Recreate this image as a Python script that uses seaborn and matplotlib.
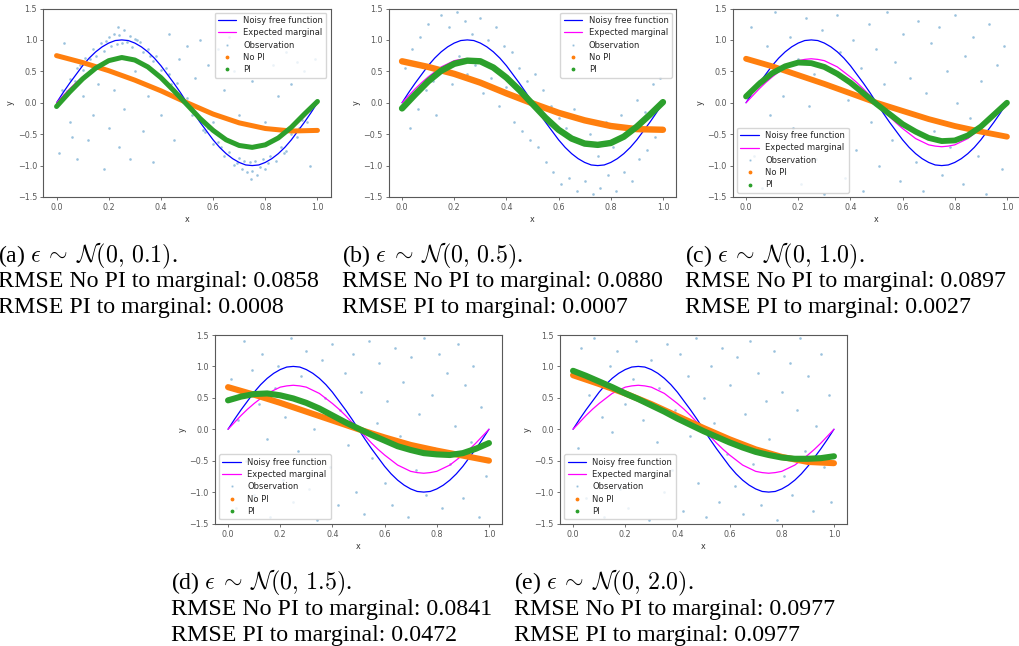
import numpy as np
import pandas as pd
import matplotlib.pyplot as plt
import seaborn as sns
from matplotlib.lines import Line2D

# Estilo geral
sns.set_style('ticks', {'axes.edgecolor': '.35', 'xtick.color': '.35', 'ytick.color': '.35'})
plt.rcParams['mathtext.fontset'] = 'cm'

# Curvas comuns a todos os painéis (x de 0 a 1, passo 0.025)
x_fine = [0.000, 0.025, 0.050, 0.075, 0.100, 0.125, 0.150, 0.175, 0.200, 0.225,
          0.250, 0.275, 0.300, 0.325, 0.350, 0.375, 0.400, 0.425, 0.450, 0.475,
          0.500, 0.525, 0.550, 0.575, 0.600, 0.625, 0.650, 0.675, 0.700, 0.725,
          0.750, 0.775, 0.800, 0.825, 0.850, 0.875, 0.900, 0.925, 0.950, 0.975, 1.000]
free_fn = [0.00, 0.16, 0.31, 0.45, 0.59, 0.71, 0.81, 0.89, 0.95, 0.99,
           1.00, 0.99, 0.95, 0.89, 0.81, 0.71, 0.59, 0.45, 0.31, 0.16,
           0.00, -0.16, -0.31, -0.45, -0.59, -0.71, -0.81, -0.89, -0.95, -0.99,
           -1.00, -0.99, -0.95, -0.89, -0.81, -0.71, -0.59, -0.45, -0.31, -0.16, 0.00]
marginal = [0.00, 0.11, 0.22, 0.32, 0.41, 0.49, 0.57, 0.62, 0.67, 0.69,
            0.70, 0.69, 0.67, 0.62, 0.57, 0.49, 0.41, 0.32, 0.22, 0.11,
            0.00, -0.11, -0.22, -0.32, -0.41, -0.49, -0.57, -0.62, -0.67, -0.69,
            -0.70, -0.69, -0.67, -0.62, -0.57, -0.49, -0.41, -0.32, -0.22, -0.11, 0.00]

# Predições "No PI" (passo 0.1)
x_nopi = [0.0, 0.1, 0.2, 0.3, 0.4, 0.5, 0.6, 0.7, 0.8, 0.9, 1.0]
nopi_a = [0.75, 0.64, 0.51, 0.36, 0.19, 0.00, -0.18, -0.32, -0.41, -0.45, -0.44]
nopi_b = [0.66, 0.57, 0.46, 0.32, 0.15, -0.01, -0.16, -0.28, -0.37, -0.42, -0.43]
nopi_c = [0.70, 0.58, 0.44, 0.30, 0.15, 0.00, -0.13, -0.26, -0.37, -0.46, -0.54]
nopi_d = [0.67, 0.55, 0.42, 0.28, 0.14, 0.00, -0.13, -0.25, -0.34, -0.42, -0.50]
nopi_e = [0.86, 0.72, 0.57, 0.40, 0.21, 0.02, -0.16, -0.32, -0.44, -0.52, -0.54]

# Predições "PI" (passo 0.05)
x_pi = [0.00, 0.05, 0.10, 0.15, 0.20, 0.25, 0.30, 0.35, 0.40, 0.45, 0.50,
        0.55, 0.60, 0.65, 0.70, 0.75, 0.80, 0.85, 0.90, 0.95, 1.00]
pi_a = [-0.06, 0.17, 0.38, 0.55, 0.67, 0.72, 0.68, 0.57, 0.40, 0.19, -0.03,
        -0.25, -0.44, -0.59, -0.68, -0.71, -0.67, -0.56, -0.39, -0.18, 0.02]
pi_b = [-0.09, 0.13, 0.34, 0.51, 0.62, 0.67, 0.66, 0.56, 0.40, 0.20, -0.02,
        -0.24, -0.43, -0.57, -0.65, -0.67, -0.64, -0.54, -0.38, -0.19, 0.01]
pi_c = [0.10, 0.30, 0.47, 0.58, 0.64, 0.63, 0.57, 0.46, 0.32, 0.15, -0.02,
        -0.18, -0.34, -0.46, -0.56, -0.61, -0.60, -0.52, -0.38, -0.19, 0.00]
pi_d = [0.46, 0.52, 0.56, 0.57, 0.54, 0.49, 0.42, 0.33, 0.22, 0.11, 0.01,
        -0.09, -0.18, -0.27, -0.33, -0.38, -0.40, -0.41, -0.38, -0.31, -0.22]
pi_e = [0.93, 0.85, 0.76, 0.67, 0.57, 0.48, 0.38, 0.28, 0.17, 0.07, -0.03,
        -0.12, -0.21, -0.29, -0.36, -0.41, -0.45, -0.47, -0.47, -0.46, -0.43]

# Observações (amostra estimada da nuvem de pontos)
obs_a_x = [0.02, 0.04, 0.05, 0.07, 0.08, 0.10, 0.11, 0.12, 0.14, 0.15, 0.17, 0.18, 0.20, 0.21,
           0.22, 0.23, 0.24, 0.25, 0.26, 0.27, 0.28, 0.29, 0.30, 0.32, 0.33, 0.35, 0.37, 0.38,
           0.40, 0.42, 0.44, 0.46, 0.48, 0.50, 0.52, 0.54, 0.56, 0.58, 0.60, 0.62, 0.64, 0.66,
           0.68, 0.70, 0.71, 0.72, 0.73, 0.74, 0.75, 0.76, 0.77, 0.78, 0.79, 0.80, 0.82, 0.84,
           0.86, 0.88, 0.90, 0.92, 0.94, 0.96, 0.98, 1.00,
           0.03, 0.09, 0.13, 0.19, 0.235, 0.31, 0.36, 0.43, 0.57, 0.63, 0.69, 0.745, 0.81, 0.87,
           0.93, 0.97,
           0.01, 0.03, 0.05, 0.06, 0.08, 0.10, 0.12, 0.14, 0.16, 0.18, 0.20, 0.22, 0.24, 0.26,
           0.28, 0.30, 0.33, 0.35, 0.37, 0.40, 0.43, 0.45, 0.47, 0.50, 0.53, 0.55, 0.58, 0.60,
           0.62, 0.64, 0.66, 0.68, 0.70, 0.72, 0.75, 0.78, 0.80, 0.83, 0.85, 0.88, 0.90, 0.92,
           0.95, 0.97, 0.99]
obs_a_y = [0.20, 0.18, 0.38, 0.35, 0.55, 0.52, 0.72, 0.62, 0.85, 0.74, 0.95, 0.83, 1.05, 0.90,
           1.10, 0.93, 1.08, 0.95, 1.15, 0.97, 1.06, 0.88, 1.02, 0.96, 0.80, 0.86, 0.66, 0.75,
           0.52, 0.56, 0.30, 0.32, 0.05, 0.08, -0.20, -0.18, -0.44, -0.40, -0.66, -0.62, -0.85, -0.78,
           -0.99, -0.88, -1.06, -0.92, -1.10, -0.95, -1.08, -0.93, -1.15, -1.02, -0.90, -1.05, -0.84, -0.93,
           -0.70, -0.76, -0.50, -0.55, -0.28, -0.30, -0.05, 0.04,
           0.12, 0.60, 0.70, 0.98, 1.20, 1.00, 0.74, 0.45, -0.47, -0.70, -0.96, -1.22, -0.96, -0.80,
           -0.40, -0.12,
           -0.80, 0.95, -0.30, -0.55, -0.90, 0.10, -0.60, -0.20, 0.30, -1.05, -0.40, 0.20, -0.70, -0.10,
           -0.90, 0.50, -0.45, 0.10, -0.95, -0.20, 1.10, -0.60, 0.70, 0.90, 0.40, 1.00, 0.60, -0.30,
           0.85, 0.20, 1.05, 0.50, -0.20, 0.75, 0.35, 0.95, -0.30, 0.60, 0.10, 0.80, 0.30, 0.65,
           0.50, -1.00, 0.70]

obs_b_x = [0.01, 0.03, 0.04, 0.06, 0.07, 0.09, 0.10, 0.12, 0.13, 0.15, 0.16, 0.18, 0.19, 0.21,
           0.22, 0.24, 0.25, 0.27, 0.28, 0.30, 0.31, 0.33, 0.34, 0.36, 0.37, 0.39, 0.40, 0.42,
           0.43, 0.45, 0.46, 0.48, 0.49, 0.51, 0.52, 0.54, 0.55, 0.57, 0.58, 0.60, 0.61, 0.63,
           0.64, 0.66, 0.67, 0.69, 0.70, 0.72, 0.73, 0.75, 0.76, 0.78, 0.79, 0.81, 0.82, 0.84,
           0.85, 0.87, 0.88, 0.90, 0.91, 0.93, 0.94, 0.96, 0.97, 0.99]
obs_b_y = [0.55, -0.40, 0.85, -0.10, 1.05, 0.20, 1.25, 0.35, -0.20, 1.40, 0.55, 1.20, 0.30, 1.45,
           0.75, 1.30, 0.45, 1.10, 0.60, 1.35, 0.15, 1.00, 0.40, 1.20, -0.05, 0.90, 0.25, 0.80,
           -0.30, 0.55, -0.45, 0.35, -0.60, 0.45, -0.70, 0.20, -0.95, -0.05, -1.10, -0.25, -1.30, -0.40,
           -1.20, -0.10, -1.40, -0.65, -1.25, -0.50, -1.45, -0.85, -1.35, -0.30, -1.15, -0.70, -1.40, -0.20,
           -1.10, -0.45, -1.25, 0.05, -0.90, -0.15, -0.75, 0.30, -0.55, 0.40]

obs_c_x = [0.02, 0.03, 0.05, 0.06, 0.08, 0.09, 0.11, 0.12, 0.14, 0.15, 0.17, 0.18, 0.20, 0.21,
           0.23, 0.24, 0.26, 0.27, 0.29, 0.30, 0.32, 0.33, 0.35, 0.36, 0.38, 0.39, 0.41, 0.42,
           0.44, 0.45, 0.47, 0.48, 0.50, 0.51, 0.53, 0.54, 0.56, 0.57, 0.59, 0.60, 0.62, 0.63,
           0.65, 0.66, 0.68, 0.69, 0.71, 0.72, 0.74, 0.75, 0.77, 0.78, 0.80, 0.81, 0.83, 0.84,
           0.86, 0.87, 0.89, 0.90, 0.92, 0.93, 0.95, 0.96, 0.98, 0.99]
obs_c_y = [1.20, -0.85, 0.35, -1.35, 0.90, -0.20, 1.45, -0.65, 0.10, -1.10, 1.05, -0.40, 0.70, -1.30,
           1.35, -0.05, 0.45, -0.90, 1.15, -1.45, 0.25, -0.55, 1.40, 0.80, -1.20, 0.05, 1.00, -0.75,
           0.55, -1.40, 1.25, -0.30, 0.85, -1.00, 0.30, 1.45, -0.60, 0.65, -1.25, 1.10, -0.15, 0.40,
           -0.95, 1.30, -1.40, 0.15, 0.95, -0.45, 1.20, -1.15, 0.50, -0.70, 1.40, 0.00, -1.30, 0.75,
           -0.25, 1.05, -0.85, 0.35, -1.45, 1.25, -0.50, 0.60, -1.05, 0.90]

obs_d_x = [0.01, 0.03, 0.04, 0.06, 0.07, 0.09, 0.10, 0.12, 0.13, 0.15, 0.16, 0.18, 0.19, 0.21,
           0.22, 0.24, 0.25, 0.27, 0.28, 0.30, 0.31, 0.33, 0.34, 0.36, 0.37, 0.39, 0.40, 0.42,
           0.43, 0.45, 0.46, 0.48, 0.49, 0.51, 0.52, 0.54, 0.55, 0.57, 0.58, 0.60, 0.61, 0.63,
           0.64, 0.66, 0.67, 0.69, 0.70, 0.72, 0.73, 0.75, 0.76, 0.78, 0.79, 0.81, 0.82, 0.84,
           0.85, 0.87, 0.88, 0.90, 0.91, 0.93, 0.94, 0.96, 0.97, 0.99]
obs_d_y = [0.80, -1.25, 0.15, 1.40, -0.50, 0.95, -1.05, 0.40, 1.20, -0.15, -1.40, 0.65, 1.00, -0.80,
           0.20, 1.45, -1.15, -0.35, 0.85, 1.25, -0.95, 0.00, -1.45, 1.10, 0.50, -0.60, 1.35, -1.20,
           0.30, 0.90, -0.25, 1.20, -1.00, 0.60, -1.35, 1.40, -0.45, 0.10, 1.05, -0.85, 0.45, -1.20,
           1.30, -0.10, 0.75, -1.40, 1.15, -0.65, 0.25, 1.45, -1.05, 0.55, -0.30, 1.20, -1.25, 0.90,
           -0.55, 0.05, 1.35, -1.10, 0.70, -0.20, 1.00, -1.40, 0.35, -0.75]

obs_e_x = [0.02, 0.03, 0.05, 0.06, 0.08, 0.09, 0.11, 0.12, 0.14, 0.15, 0.17, 0.18, 0.20, 0.21,
           0.23, 0.24, 0.26, 0.27, 0.29, 0.30, 0.32, 0.33, 0.35, 0.36, 0.38, 0.39, 0.41, 0.42,
           0.44, 0.45, 0.47, 0.48, 0.50, 0.51, 0.53, 0.54, 0.56, 0.57, 0.59, 0.60, 0.62, 0.63,
           0.65, 0.66, 0.68, 0.69, 0.71, 0.72, 0.74, 0.75, 0.77, 0.78, 0.80, 0.81, 0.83, 0.84,
           0.86, 0.87, 0.89, 0.90, 0.92, 0.93, 0.95, 0.96, 0.98, 0.99]
obs_e_y = [-0.30, 1.30, -1.10, 0.55, 1.45, -0.70, 0.20, -1.40, 1.00, -0.05, 1.25, -0.95, 0.40, -1.25,
           0.80, 1.40, -0.50, 0.15, -1.45, 1.10, -0.20, 0.65, -1.00, 1.35, -0.65, 0.30, 1.20, -1.30,
           0.85, -0.10, 1.45, -0.85, 0.50, -1.40, 1.00, 0.10, -1.15, 1.30, -0.40, 0.70, -0.90, 1.15,
           -1.35, 0.25, 1.40, -0.55, 0.90, -1.20, 0.45, -0.15, 1.25, -1.45, 0.60, -0.75, 1.05, -1.05,
           0.30, 1.45, -0.35, 0.85, -1.30, 0.05, 1.20, -0.60, 0.55, -1.15]

# Legendas dos painéis
panel_tags = ['(a)', '(b)', '(c)', '(d)', '(e)']
noise_std = ['0.1', '0.5', '1.0', '1.5', '2.0']
rmse_nopi = ['0.0858', '0.0880', '0.0897', '0.0841', '0.0977']
rmse_pi = ['0.0008', '0.0007', '0.0027', '0.0472', '0.0977']

obs_x = [obs_a_x, obs_b_x, obs_c_x, obs_d_x, obs_e_x]
obs_y = [obs_a_y, obs_b_y, obs_c_y, obs_d_y, obs_e_y]
nopi = [nopi_a, nopi_b, nopi_c, nopi_d, nopi_e]
pi = [pi_a, pi_b, pi_c, pi_d, pi_e]

# Layout (pixels da figura de 1020x646)
W, H = 1020, 646
axes_px = [(43.5, 8.5), (389, 8.5), (733, 8.5), (215, 335), (560, 335)]
axes_w, axes_h = 287, 188.5
caption_px = [(-2, 256), (342, 256), (685, 256), (171, 583), (514, 583)]
legend_loc = ['upper right', 'upper right', 'lower left', 'lower left', 'lower left']
thick = [3.6, 4.6, 4.2, 4.4, 4.4]

fig = plt.figure(figsize=(W / 100, H / 100), dpi=100)

for i in range(5):
    left, top = axes_px[i]
    ax = fig.add_axes([left / W, 1 - (top + axes_h) / H, axes_w / W, axes_h / H])

    sns.lineplot(x=x_fine, y=free_fn, color='blue', linewidth=0.9, ax=ax,
                 estimator=None, sort=False)
    sns.lineplot(x=x_fine, y=marginal, color='#ff00ff', linewidth=0.9, ax=ax,
                 estimator=None, sort=False)
    sns.scatterplot(x=obs_x[i], y=obs_y[i], color='C0', s=3.5, alpha=0.45,
                    linewidth=0, ax=ax, legend=False)
    sns.lineplot(x=x_nopi, y=nopi[i], color='C1', linewidth=thick[i], ax=ax,
                 estimator=None, sort=False, solid_capstyle='round')
    sns.lineplot(x=x_pi, y=pi[i], color='C2', linewidth=thick[i], ax=ax,
                 estimator=None, sort=False, solid_capstyle='round')

    ax.set_xlim(-0.05, 1.05)
    ax.set_ylim(-1.5, 1.5)
    ax.set_xticks([0.0, 0.2, 0.4, 0.6, 0.8, 1.0])
    ax.set_yticks([-1.5, -1.0, -0.5, 0.0, 0.5, 1.0, 1.5])
    ax.tick_params(labelsize=5.8, length=2.5, width=0.6, pad=2)
    ax.set_xlabel('x', fontsize=5.8, color='.2', labelpad=2)
    ax.set_ylabel('y', fontsize=5.8, color='.2', labelpad=2)
    for sp in ax.spines.values():
        sp.set_linewidth(0.8)

    handles = [
        Line2D([], [], color='blue', lw=0.9),
        Line2D([], [], color='#ff00ff', lw=0.9),
        Line2D([], [], color='C0', marker='.', ls='', markersize=1.5, alpha=0.3),
        Line2D([], [], color='C1', marker='.', ls='', markersize=3.5),
        Line2D([], [], color='C2', marker='.', ls='', markersize=3.5),
    ]
    labels = ['Noisy free function', 'Expected marginal', 'Observation', 'No PI', 'PI']
    ax.legend(handles, labels, loc=legend_loc[i], fontsize=6, frameon=True,
              borderpad=0.4, labelspacing=0.4, handlelength=2.2)

    cx, cy = caption_px[i]
    lines = [panel_tags[i] + r' $\epsilon \:\sim\: \mathcal{N}(0,\, ' + noise_std[i] + r')$.',
             'RMSE No PI to marginal: ' + rmse_nopi[i],
             'RMSE PI to marginal: ' + rmse_pi[i]]
    for k, s in enumerate(lines):
        fig.text(cx / W, 1 - (cy + 26 * k) / H, s, ha='left', va='center',
                 fontsize=17.2, family='Liberation Serif', color='black')

fig.savefig('out.png', dpi=100)
